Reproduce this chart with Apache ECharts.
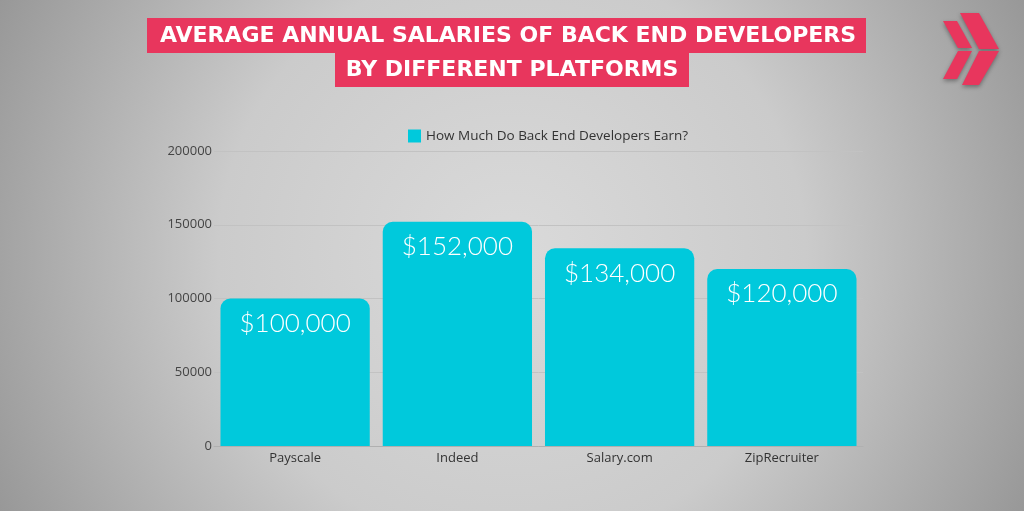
<!DOCTYPE html>
<html lang="en">
<head>
    <meta charset="UTF-8">
    <title>Back End Developer Salaries</title>
    <script src="https://cdn.jsdelivr.net/npm/echarts@6/dist/echarts.min.js"></script>
    <style>
        html, body { margin: 0; padding: 0; }
        #main { width: 1024px; height: 511px; }
    </style>
</head>
<body>
<div id="main"></div>
<script>
    // data
    const platforms = ['Payscale', 'Indeed', 'Salary.com', 'ZipRecruiter'];
    const salaries = [100000, 152000, 134000, 120000];
    const seriesName = 'How Much Do Back End Developers Earn?';
    const titleLines = ['AVERAGE ANNUAL SALARIES OF BACK END DEVELOPERS', 'BY DIFFERENT PLATFORMS'];

    const pink = '#e8365d';
    const cyan = '#00c9dc';
    const shadow = { shadowBlur: 4, shadowColor: 'rgba(0,0,0,0.35)', shadowOffsetY: 2 };

    let chart = echarts.init(document.getElementById('main'));

    let option = {
        backgroundColor: {
            type: 'radial', x: 0.5, y: 0.5, r: 1.15,
            colorStops: [
                { offset: 0, color: '#dadada' },
                { offset: 0.5, color: '#cbcbcb' },
                { offset: 1, color: '#959595' }
            ]
        },
        legend: {
            top: 124,
            left: 403,
            itemWidth: 13,
            itemHeight: 13,
            itemGap: 8,
            icon: 'rect',
            textStyle: { fontFamily: 'Open Sans', fontSize: 13.5, color: '#333' }
        },
        grid: { left: 214, right: 161, top: 151, bottom: 65 },
        xAxis: {
            type: 'category',
            data: platforms,
            axisTick: { show: false },
            axisLine: { lineStyle: { color: '#b0b0b0' } },
            axisLabel: { fontFamily: 'Open Sans', fontSize: 13, color: '#333', margin: 6 }
        },
        yAxis: {
            type: 'value',
            min: 0,
            max: 200000,
            interval: 50000,
            axisLabel: {
                fontFamily: 'Open Sans', fontSize: 13, color: '#444', margin: 2,
                formatter: v => String(v)
            },
            splitLine: { lineStyle: { color: '#c2c2c2' } }
        },
        series: [{
            name: seriesName,
            type: 'bar',
            data: salaries,
            barCategoryGap: '8%',
            itemStyle: { color: cyan, borderRadius: [10, 10, 0, 0] },
            label: {
                show: true,
                position: 'insideTop',
                distance: 12,
                fontFamily: 'Lato',
                fontWeight: 300,
                fontSize: 26,
                color: '#fff',
                formatter: p => '$' + p.value.toLocaleString('en-US')
            }
        }],
        graphic: [
            { type: 'rect', shape: { x: 147, y: 18, width: 719, height: 35 }, style: { fill: pink } },
            { type: 'rect', shape: { x: 335, y: 52, width: 354, height: 35 }, style: { fill: pink } },
            {
                type: 'text', x: 508, y: 36,
                style: {
                    text: titleLines[0], fill: '#fff', align: 'center', verticalAlign: 'middle',
                    font: 'bold 22px "DejaVu Sans"'
                }
            },
            {
                type: 'text', x: 512, y: 70,
                style: {
                    text: titleLines[1], fill: '#fff', align: 'center', verticalAlign: 'middle',
                    font: 'bold 22px "DejaVu Sans"'
                }
            },
            // logo chevrons
            {
                type: 'group',
                children: [
                    { type: 'polygon', shape: { points: [[943, 21], [957, 21], [972, 48], [958, 48]] }, style: Object.assign({ fill: pink }, shadow) },
                    { type: 'polygon', shape: { points: [[958, 51], [972, 51], [957, 79], [943, 79]] }, style: Object.assign({ fill: pink }, shadow) },
                    { type: 'polygon', shape: { points: [[960, 13], [979, 13], [999, 49], [979, 49]] }, style: Object.assign({ fill: pink }, shadow) },
                    { type: 'polygon', shape: { points: [[979, 51], [999, 51], [979, 85], [962, 85]] }, style: Object.assign({ fill: pink }, shadow) }
                ]
            }
        ]
    };

    chart.setOption(option);
</script>
</body>
</html>
